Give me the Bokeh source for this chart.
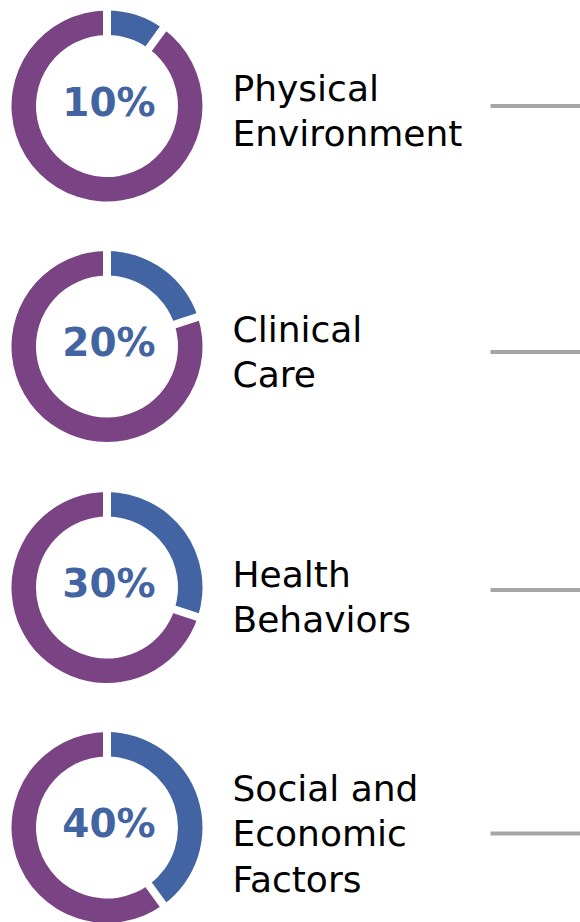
import math
from bokeh.plotting import figure
from bokeh.models import Range1d
from bokeh.core.properties import value
from bokeh.embed import file_html
from bokeh.resources import INLINE

# ---- data ----
categories = ["Physical Environment", "Clinical Care", "Health Behaviors",
              "Social and Economic Factors"]
label_lines = [["Physical", "Environment"],
               ["Clinical", "Care"],
               ["Health", "Behaviors"],
               ["Social and", "Economic", "Factors"]]
shares = [10, 20, 30, 40]
pct_labels = ["10%", "20%", "30%", "40%"]

# ---- layout (image pixel coords) ----
W, H = 580, 922
centers_img_y = [105.5, 346.0, 587.0, 827.0]
cx = 106.5
r_out, r_in = 95.5, 71.0
label_first_baseline = [87.5, 328.5, 573.5, 787.5]
line_gap = 45.5
connector_y = [105.5, 351.5, 589.5, 833.0]

BLUE = "#4364a2"
PURPLE = "#7a4384"
GREY = "#a6a6a6"

def Y(img_y):
    return H - img_y

p = figure(width=W, height=H, x_range=Range1d(0, W), y_range=Range1d(0, H),
           output_backend="svg", toolbar_location=None, min_border=0)
p.axis.visible = False
p.grid.visible = False
p.outline_line_color = None
p.background_fill_color = "white"
p.border_fill_color = "white"

top = math.pi / 2
for i, v in enumerate(shares):
    cy = Y(centers_img_y[i])
    frac = v / 100.0
    a_split = top - 2 * math.pi * frac
    p.annular_wedge(x=[cx], y=[cy], inner_radius=r_in, outer_radius=r_out,
                    start_angle=[a_split], end_angle=[top],
                    fill_color=BLUE, line_color=None)
    p.annular_wedge(x=[cx], y=[cy], inner_radius=r_in, outer_radius=r_out,
                    start_angle=[top], end_angle=[a_split + 2 * math.pi],
                    fill_color=PURPLE, line_color=None)
    for a in (top, a_split):
        p.segment(x0=[cx + (r_in - 3) * math.cos(a)], y0=[cy + (r_in - 3) * math.sin(a)],
                  x1=[cx + (r_out + 3) * math.cos(a)], y1=[cy + (r_out + 3) * math.sin(a)],
                  line_color="white", line_width=8)
    p.text(x=[cx + 2], y=[cy + 4], text=[pct_labels[i]],
           text_font=value("DejaVu Sans"), text_font_style="bold",
           text_font_size="39px", text_color=BLUE,
           text_align="center", text_baseline="alphabetic")
    for j, line in enumerate(label_lines[i]):
        p.text(x=[232], y=[Y(label_first_baseline[i] + j * line_gap)], text=[line],
               text_font=value("DejaVu Sans"), text_font_size="36px",
               text_color="black", text_align="left", text_baseline="alphabetic")
    p.segment(x0=[490], y0=[Y(connector_y[i])], x1=[W], y1=[Y(connector_y[i])],
              line_color=GREY, line_width=4)

open("out.html", "w").write(file_html(p, INLINE))
